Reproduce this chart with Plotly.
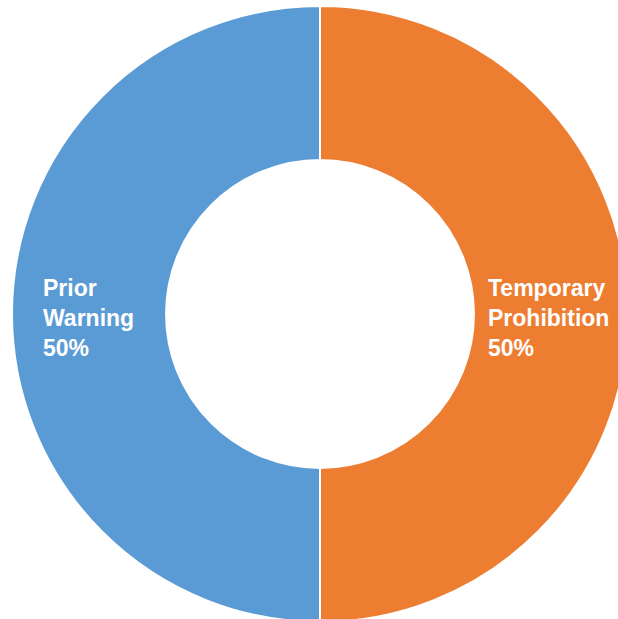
import math
import plotly.graph_objects as go

# Share of each measure
labels = ["Temporary Prohibition", "Prior Warning"]
label_lines = ["Temporary<br>Prohibition", "Prior<br>Warning"]
values = [50, 50]
colors = ["#ED7D31", "#5B9BD5"]

W, H = 640, 628
dom_y = [6 / H, (H - 6) / H]
hole = 0.5

fig = go.Figure(go.Pie(
    labels=labels,
    values=values,
    hole=hole,
    sort=False,
    direction="clockwise",
    rotation=0,
    marker=dict(colors=colors, line=dict(color="white", width=2)),
    textinfo="none",
    hoverinfo="label+percent",
    domain=dict(x=[0, 1], y=dom_y),
    showlegend=False,
))

# Place each slice label at the middle of its ring section
radius = min(W, (dom_y[1] - dom_y[0]) * H) / 2
r_mid = radius * (1 + hole) / 2
cx, cy = 0.5, (dom_y[0] + dom_y[1]) / 2
total = sum(values)
cum = 0
for lab, v in zip(label_lines, values):
    mid = (cum + v / 2) / total
    cum += v
    ang = math.pi / 2 - 2 * math.pi * mid
    x = cx + r_mid * math.cos(ang) / W
    y = cy + r_mid * math.sin(ang) / H
    pct = round(100 * v / total)
    fig.add_annotation(
        x=x, y=y, xref="paper", yref="paper",
        text=f"<b>{lab}<br>{pct}%</b>",
        showarrow=False, align="left",
        xanchor="center", yanchor="middle",
        xshift=-3 if math.cos(ang) > 0 else 0,
        yshift=-4,
        font=dict(family="Liberation Sans, Arial, sans-serif", size=23, color="white"),
    )

fig.update_layout(
    width=W, height=H,
    margin=dict(l=0, r=0, t=0, b=0),
    paper_bgcolor="white",
    plot_bgcolor="white",
)

fig.write_html(
    "out.html",
    post_script="document.documentElement.style.overflow='hidden';document.body.style.overflow='hidden';document.body.style.margin='0';",
)
